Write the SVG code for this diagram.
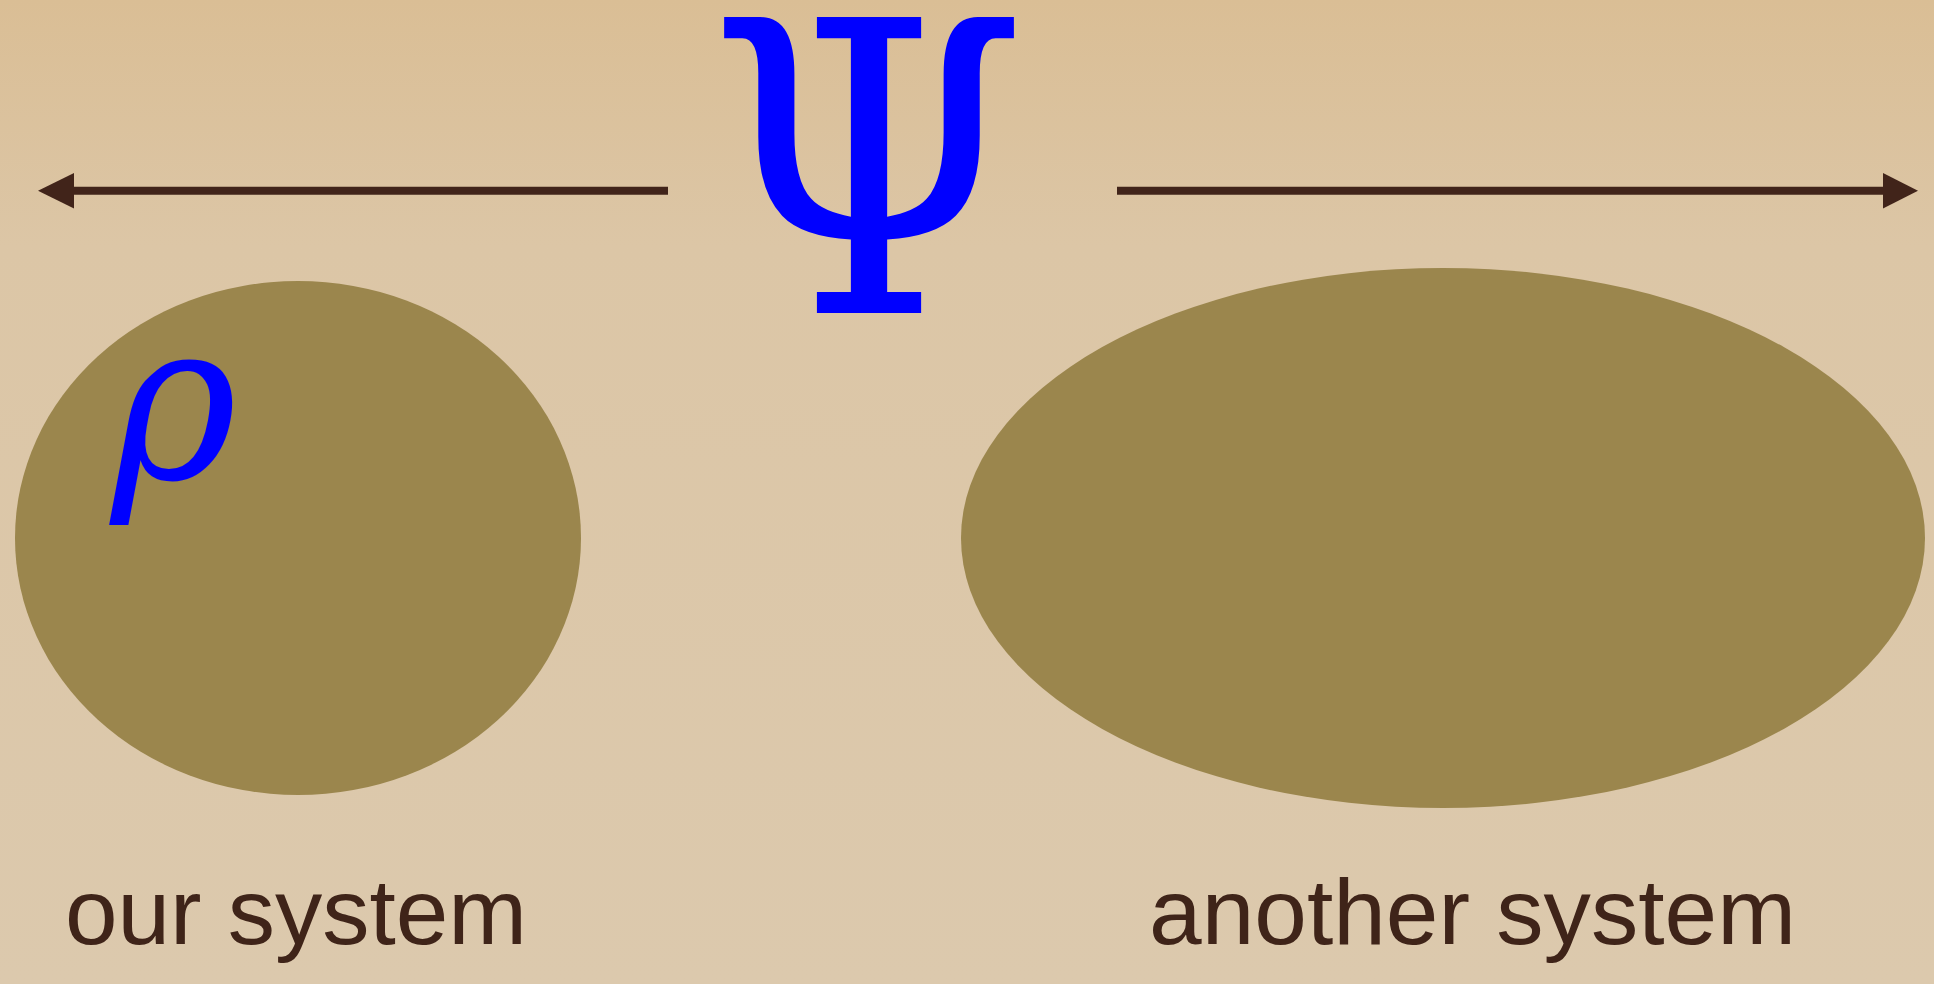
<svg xmlns="http://www.w3.org/2000/svg" width="1934" height="984" viewBox="0 0 1934 984">
  <defs>
    <linearGradient id="bg" x1="0" y1="0" x2="0" y2="1">
      <stop offset="0" stop-color="#dabe95"/>
      <stop offset="0.25" stop-color="#dcc6a6"/>
      <stop offset="1" stop-color="#dcc9ad"/>
    </linearGradient>
    <style>
      .sys { fill: #9b864d; }
      .conn { stroke: #41241a; stroke-width: 8; fill: none; }
      .head { fill: #41241a; }
      .label { font-family: "Liberation Sans", Arial, sans-serif; font-size: 92px; fill: #3f2419; }
      .math { font-family: "DejaVu Serif", "Liberation Serif", serif; fill: #0000ff; }
    </style>
  </defs>
  <rect width="1934" height="984" fill="url(#bg)"/>
  <g id="connectors">
    <line class="conn" x1="668" y1="190.7" x2="70" y2="190.7"/>
    <polygon class="head" points="38,190.7 74,173 74,208.4"/>
    <line class="conn" x1="1117" y1="190.7" x2="1886" y2="190.7"/>
    <polygon class="head" points="1918,190.7 1883,173 1883,208.4"/>
  </g>
  <g id="our-system">
    <ellipse class="sys" cx="298" cy="538" rx="283" ry="257"/>
    <text class="math" x="111" y="479" font-size="222" font-style="italic" textLength="126" lengthAdjust="spacingAndGlyphs">ρ</text>
    <text class="label" x="65" y="944" textLength="462" lengthAdjust="spacingAndGlyphs">our system</text>
  </g>
  <g id="another-system">
    <ellipse class="sys" cx="1443" cy="538" rx="482" ry="270"/>
    <text class="label" x="1149" y="944" textLength="647" lengthAdjust="spacingAndGlyphs">another system</text>
  </g>
  <g id="psi">
    <text class="math" x="707" y="313" font-size="406" textLength="321" lengthAdjust="spacingAndGlyphs">Ψ</text>
  </g>
</svg>
